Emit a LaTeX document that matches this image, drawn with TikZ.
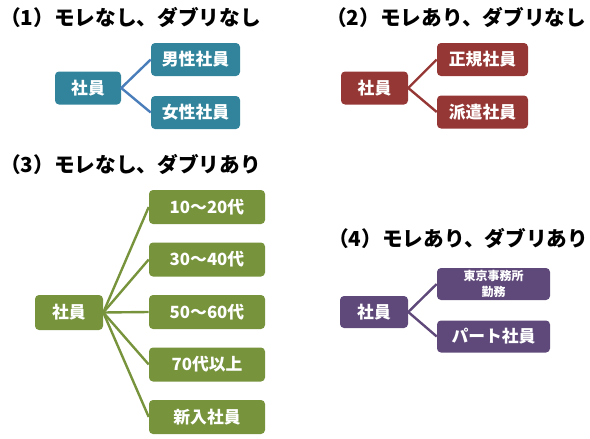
\documentclass[tikz,border=0pt]{standalone}
\usepackage{fontspec}
\setmainfont{Noto Sans CJK JP}
\definecolor{tealbox}{HTML}{31849B}
\definecolor{bluelink}{HTML}{4A7EBB}
\definecolor{redbox}{HTML}{953735}
\definecolor{olivebox}{HTML}{77933C}
\definecolor{purplebox}{HTML}{5F497A}
\begin{document}
\begin{tikzpicture}
    [x=0.75pt, y=-0.75pt,
     box/.style={rounded corners=3pt, text=white, inner sep=0pt,
       font=\bfseries\fontsize{12.6}{14}\selectfont, minimum height=24.75pt},
     title/.style={anchor=west, inner sep=0pt,
       font=\bfseries\fontsize{15.5}{18}\selectfont},
     link/.style={line width=1.8pt}]
    \useasboundingbox (0,0) rectangle (590,439);

    % (1)
    \node[title] (t1) at (0,17) {（1）モレなし、ダブリなし};
    \node[box, fill=tealbox, minimum width=49.5pt] (a) at (88,88) {社員};
    \node[box, fill=tealbox, minimum width=66.75pt] (a1) at (195.5,59.5) {男性社員};
    \node[box, fill=tealbox, minimum width=66.75pt] (a2) at (195.5,112.5) {女性社員};
    \draw[link, draw=bluelink] (a1.west) -- (a.east) -- (a2.west);

    % (2)
    \node[title] (t2) at (326,17) {（2）モレあり、ダブリなし};
    \node[box, fill=redbox, minimum width=50.25pt] (b) at (374.5,88) {社員};
    \node[box, fill=redbox, minimum width=68.25pt] (b1) at (482.5,59.5) {正規社員};
    \node[box, fill=redbox, minimum width=68.25pt] (b2) at (482.5,112) {派遣社員};
    \draw[link, draw=redbox] (b1.west) -- (b.east) -- (b2.west);

    % (3)
    \node[title] (t3) at (0,164) {（3）モレなし、ダブリあり};
    \node[box, fill=olivebox, minimum width=51pt, minimum height=26.25pt] (c) at (69,312.5) {社員};
    \foreach \lbl [count=\i] in {10～20代, 30～40代, 50～60代, 70代以上, 新入社員}
    {
      \node[box, fill=olivebox, minimum width=87pt, minimum height=25.5pt] (c\i) at (207,{154.5+52.5*\i}) {\lbl};
      \draw[link, draw=olivebox] (c.east) -- (c\i.west);
    }

    % (4)
    \node[title] (t4) at (328,238) {（4）モレあり、ダブリあり};
    \node[box, fill=purplebox, minimum width=51pt, minimum height=24pt] (d) at (374,312) {社員};
    \node[box, fill=purplebox, minimum width=84.75pt, minimum height=24pt, align=center,
      font=\bfseries\fontsize{9}{12.5}\selectfont] (d1) at (493.5,284) {東京事務所\\勤務};
    \node[box, fill=purplebox, minimum width=84.75pt, minimum height=24pt] (d2) at (493.5,336.5) {パート社員};
    \draw[link, draw=purplebox] (d1.west) -- (d.east) -- (d2.west);
\end{tikzpicture}
\end{document}
